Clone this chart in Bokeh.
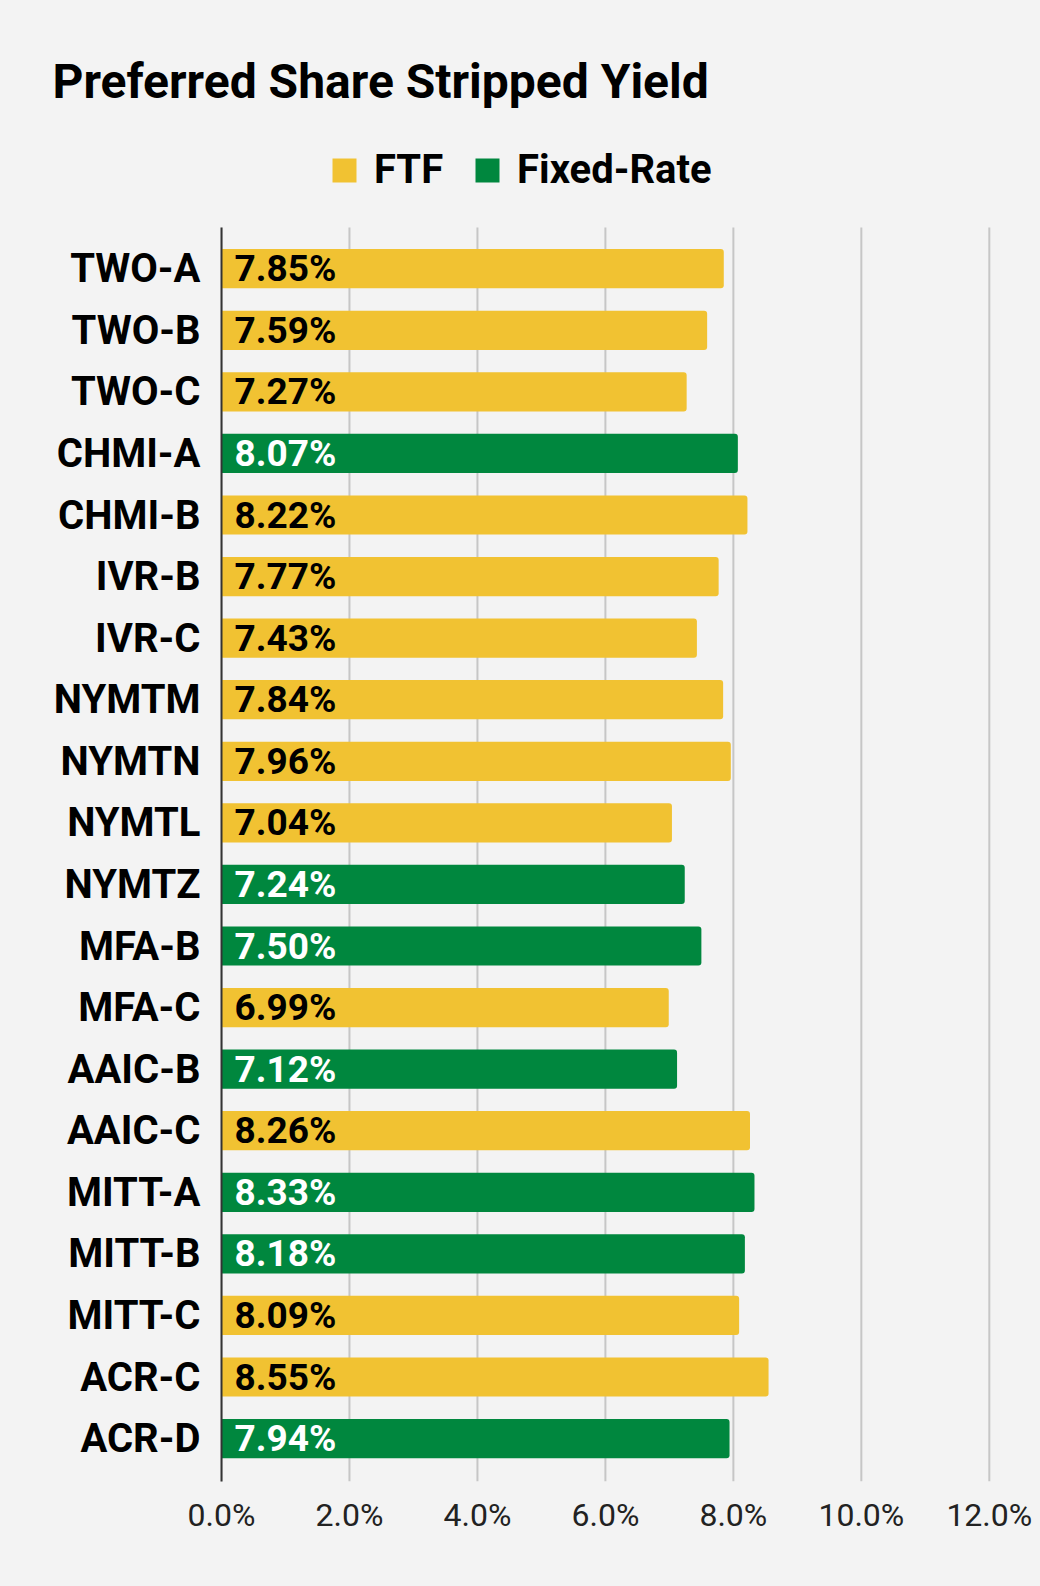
from bokeh.plotting import figure
from bokeh.models import (ColumnDataSource, Range1d, FixedTicker,
                          PrintfTickFormatter, Legend, LegendItem)
from bokeh.core.properties import value
from bokeh.embed import file_html
from bokeh.resources import INLINE

# ---- data ----
names = ["TWO-A", "TWO-B", "TWO-C", "CHMI-A", "CHMI-B", "IVR-B", "IVR-C",
         "NYMTM", "NYMTN", "NYMTL", "NYMTZ", "MFA-B", "MFA-C", "AAIC-B",
         "AAIC-C", "MITT-A", "MITT-B", "MITT-C", "ACR-C", "ACR-D"]
yields = [7.85, 7.59, 7.27, 8.07, 8.22, 7.77, 7.43, 7.84, 7.96, 7.04,
          7.24, 7.50, 6.99, 7.12, 8.26, 8.33, 8.18, 8.09, 8.55, 7.94]
kinds = ["FTF", "FTF", "FTF", "Fixed-Rate", "FTF", "FTF", "FTF", "FTF", "FTF",
         "FTF", "Fixed-Rate", "Fixed-Rate", "FTF", "Fixed-Rate", "FTF",
         "Fixed-Rate", "Fixed-Rate", "FTF", "FTF", "Fixed-Rate"]
x_ticks = [0, 2, 4, 6, 8, 10, 12]
series = ["FTF", "Fixed-Rate"]
title_text = "Preferred Share Stripped Yield"
colors = {"FTF": "#F1C232", "Fixed-Rate": "#00873E"}
label_colors = {"FTF": "#000000", "Fixed-Rate": "#FFFFFF"}

BG = "#F3F3F3"
FONT = "Roboto"

# category slots: first name at the top
n = len(names)
slot = {name: n - 1 - i for i, name in enumerate(names)}
Y_LO, Y_HI = -0.697, 21.245        # visible y span (slots)
GRID_TOP = 19.671                  # grid / axis line top (slots)

p = figure(width=1040, height=1586, output_backend="svg", toolbar_location=None,
           title=title_text,
           y_range=Range1d(Y_LO, Y_HI), x_range=Range1d(0, 12.05),
           min_border_left=221, min_border_right=48,
           min_border_top=130, min_border_bottom=105)
p.background_fill_color = BG
p.border_fill_color = BG
p.outline_line_color = None
p.grid.visible = False

# vertical grid lines (limited to the bar area)
p.segment(x0=x_ticks, x1=x_ticks, y0=[Y_LO] * len(x_ticks),
          y1=[GRID_TOP] * len(x_ticks), line_color="#C6C6C6", line_width=2)

renderers = {}
for s in series:
    idx = [i for i, k in enumerate(kinds) if k == s]
    src = ColumnDataSource(dict(
        pos=[slot[names[i]] for i in idx],
        val=[yields[i] for i in idx],
        lab=["%.2f%%" % yields[i] for i in idx],
    ))
    renderers[s] = p.hbar(y="pos", right="val", left=0, height=0.637, source=src,
                          fill_color=colors[s], line_color=None,
                          border_radius=(0, 3, 3, 0))
    p.text(x=0, y="pos", text="lab", source=src, x_offset=13,
           text_baseline="middle", text_align="left",
           text_color=label_colors[s], text_font=value(FONT),
           text_font_style="bold", text_font_size="37px")

# title
p.title.align = "left"
p.title.offset = -169
p.title.standoff = 42
p.title.text_font = FONT
p.title.text_font_style = "bold"
p.title.text_font_size = "48px"
p.title.text_color = "#000000"

# legend (inside the frame, above the bars)
legend = Legend(items=[LegendItem(label=s, renderers=[renderers[s]]) for s in series],
                orientation="horizontal", location=(108, 1288),
                border_line_color=None, background_fill_alpha=0,
                padding=0, margin=0, spacing=29, label_standoff=15,
                glyph_width=30, glyph_height=30,
                label_text_font=FONT, label_text_font_style="bold",
                label_text_font_size="40px", label_text_color="#000000")
p.add_layout(legend, "center")

# axes
p.xaxis.ticker = FixedTicker(ticks=x_ticks)
p.xaxis.formatter = PrintfTickFormatter(format="%.1f%%")
p.xaxis.axis_line_color = None
p.xaxis.major_tick_line_color = None
p.xaxis.minor_tick_line_color = None
p.xaxis.major_label_text_font = FONT
p.xaxis.major_label_text_font_size = "32px"
p.xaxis.major_label_text_color = "#222222"
p.xaxis.major_label_standoff = 8

p.yaxis.ticker = FixedTicker(ticks=[slot[nm] for nm in names])
p.yaxis.major_label_overrides = {slot[nm]: nm for nm in names}
p.yaxis.bounds = (Y_LO, GRID_TOP)
p.yaxis.axis_line_color = "#333333"
p.yaxis.axis_line_width = 2
p.yaxis.major_tick_line_color = None
p.yaxis.minor_tick_line_color = None
p.yaxis.major_label_text_font = FONT
p.yaxis.major_label_text_font_style = "bold"
p.yaxis.major_label_text_font_size = "40px"
p.yaxis.major_label_text_color = "#000000"
p.yaxis.major_label_standoff = 15

html = file_html(p, INLINE)
html = html.replace("<body>", '<body style="background-color:#F3F3F3;">')
open("out.html", "w").write(html)
